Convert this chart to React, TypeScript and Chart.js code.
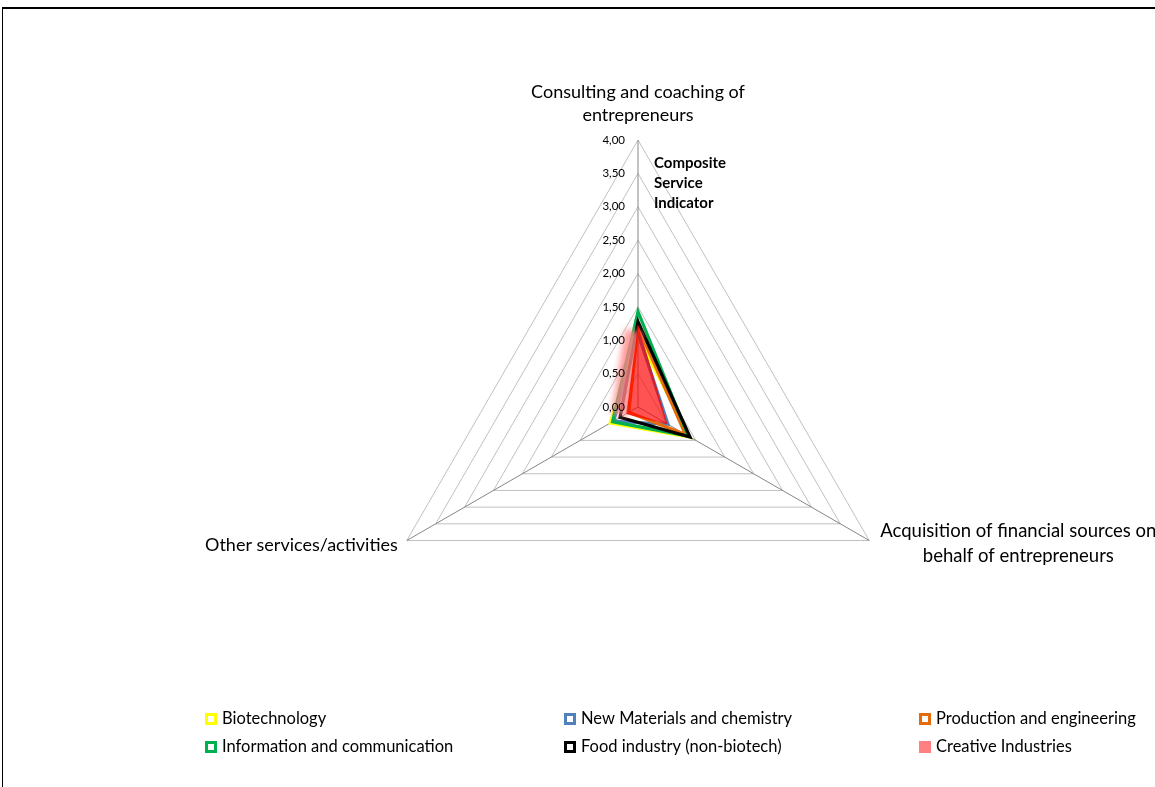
import React, { useEffect, useRef } from "react";
import { Chart, registerables } from "chart.js";

Chart.register(...registerables);

// Radar axes (one per service type)
const axisLabels: string[][] = [
  ["Consulting and coaching of", "entrepreneurs"],
  ["Acquisition of financial sources on", "behalf of entrepreneurs"],
  ["Other services/activities"],
];

const seriesNames = [
  "Biotechnology",
  "New Materials and chemistry",
  "Production and engineering",
  "Information and communication",
  "Food industry (non-biotech)",
  "Creative Industries",
];

// Composite service indicator per sector: [consulting, financing, other]
const biotechnology = [1.05, 0.9, 0.48];
const newMaterials = [1.1, 0.52, 0.42];
const production = [1.2, 0.82, 0.16];
const information = [1.43, 0.87, 0.44];
const foodIndustry = [1.28, 0.9, 0.31];
const creative = [1.22, 0.5, 0.2];

const tickValues = [0, 0.5, 1, 1.5, 2, 2.5, 3, 3.5, 4];
const axisTitle = ["Composite", "Service", "Indicator"];

const lineColors = ["#ffff00", "#4f81bd", "#e46c0a", "#00b050", "#000000"];
const creativeFill = "rgba(255,0,0,0.68)";
const creativeSwatch = "#ff8080";

const FONT = "Lato, 'Open Sans', sans-serif";

const fmt = (v: number) => v.toFixed(2).replace(".", ",");

const overlayPlugin = {
  id: "radarOverlay",
  afterDatasetsDraw(chart: any) {
    // soft glow along the upper-left edge of the filled series
    const ctx = chart.ctx;
    const meta = chart.getDatasetMeta(5);
    const pts = meta.data.map((p: any) => ({ x: p.x, y: p.y }));
    if (pts.length < 3) return;
    ctx.save();
    ctx.beginPath();
    ctx.rect(0, 0, chart.width, chart.height);
    ctx.moveTo(pts[0].x, pts[0].y);
    ctx.lineTo(pts[1].x, pts[1].y);
    ctx.lineTo(pts[2].x, pts[2].y);
    ctx.closePath();
    ctx.clip("evenodd");
    ctx.filter = "blur(3px)";
    ctx.strokeStyle = "rgba(255,130,130,0.82)";
    ctx.lineWidth = 18;
    ctx.lineCap = "butt";
    ctx.beginPath();
    ctx.moveTo(pts[0].x - 4, pts[0].y + 5);
    ctx.lineTo(pts[2].x - 6, pts[2].y + 1);
    ctx.stroke();
    ctx.restore();
  },
  afterDraw(chart: any) {
    const ctx = chart.ctx;
    const scale = chart.scales.r;
    ctx.save();

    // tick labels left of the vertical axis
    ctx.fillStyle = "#000";
    ctx.font = `11.5px ${FONT}`;
    ctx.textAlign = "right";
    ctx.textBaseline = "middle";
    tickValues.forEach((v) => {
      const y = scale.yCenter - scale.getDistanceFromCenterForValue(v);
      ctx.fillText(fmt(v), scale.xCenter - 13, y);
    });

    // axis title
    ctx.font = `bold 15px ${FONT}`;
    ctx.textAlign = "left";
    axisTitle.forEach((t, i) => {
      ctx.fillText(t, scale.xCenter + 16, 163 + i * 20);
    });

    // point labels
    ctx.font = `18px ${FONT}`;
    ctx.fillStyle = "#000";
    const outer = scale.getDistanceFromCenterForValue(4);
    axisLabels.forEach((lines, i) => {
      const p = scale.getPointPosition(i, outer);
      if (i === 0) {
        ctx.textAlign = "center";
        lines.forEach((l, k) => {
          ctx.fillText(l, p.x, p.y - 48 + k * 23);
        });
      } else if (i === 1) {
        ctx.font = `18.5px ${FONT}`;
        const lh = 25;
        const w = Math.max(...lines.map((l) => ctx.measureText(l).width));
        const cx = p.x + 11 + w / 2;
        ctx.textAlign = "center";
        const top = p.y + 3 - ((lines.length - 1) * lh) / 2;
        lines.forEach((l, k) => ctx.fillText(l, cx, top + k * lh));
        ctx.font = `18px ${FONT}`;
      } else {
        ctx.textAlign = "right";
        lines.forEach((l, k) => ctx.fillText(l, p.x - 9, p.y + 5 + k * 23));
      }
    });

    // legend: 2 rows x 3 columns
    const colX = [205, 564, 919];
    const rowY = [719, 747];
    ctx.font = `16.5px ${FONT}`;
    ctx.textAlign = "left";
    ctx.textBaseline = "middle";
    chart.data.datasets.forEach((ds: any, i: number) => {
      const x = colX[i % 3];
      const y = rowY[Math.floor(i / 3)];
      if (i === 5) {
        ctx.fillStyle = creativeSwatch;
        ctx.fillRect(x, y - 6, 12, 12);
      } else {
        ctx.fillStyle = "#fff";
        ctx.fillRect(x, y - 6, 12, 12);
        ctx.strokeStyle = ds.borderColor;
        ctx.lineWidth = 3;
        ctx.strokeRect(x + 1.5, y - 4.5, 9, 9);
      }
      ctx.fillStyle = "#000";
      ctx.fillText(ds.label, x + 17, y);
    });

    ctx.restore();
  },
};

export default function App() {
  const ref = useRef<HTMLCanvasElement | null>(null);

  useEffect(() => {
    if (!ref.current) return;
    const lineSeries = [biotechnology, newMaterials, production, information, foodIndustry];
    // earlier series are painted first, later ones on top
    const datasets: any[] = lineSeries.map((data, i) => ({
      label: seriesNames[i],
      data,
      borderColor: lineColors[i],
      backgroundColor: "rgba(0,0,0,0)",
      borderWidth: 3.2,
      borderJoinStyle: "miter",
      fill: false,
      pointRadius: 0,
      order: 10 - i,
    }));
    datasets.push({
      label: seriesNames[5],
      data: creative,
      borderColor: creativeFill,
      backgroundColor: creativeFill,
      borderWidth: 1,
      fill: true,
      pointRadius: 0,
      order: 0,
    });

    const chart = new Chart(ref.current, {
      type: "radar",
      data: { labels: axisLabels.map((l) => l.join(" ")), datasets },
      options: {
        animation: false,
        responsive: false,
        layout: { padding: { left: 371, right: 250, top: 140, bottom: 113 } },
        plugins: { legend: { display: false }, tooltip: { enabled: false } },
        elements: { line: { tension: 0 } },
        scales: {
          r: {
            min: 0,
            max: 4,
            beginAtZero: true,
            ticks: { stepSize: 0.5, display: false },
            grid: { color: "#c0c0c0", lineWidth: 1 },
            angleLines: { color: "#868686", lineWidth: 1 },
            pointLabels: { display: false },
          },
        },
      },
      plugins: [overlayPlugin],
    });
    return () => chart.destroy();
  }, []);

  return (
    <div
      style={{
        position: "fixed",
        left: 0,
        top: 0,
        width: 1155,
        height: 787,
        overflow: "hidden",
        background: "#fff",
      }}
    >
      <div
        style={{
          position: "absolute",
          left: 2,
          top: 7,
          width: 1300,
          height: 900,
          borderTop: "2px solid #000",
          borderLeft: "1px solid #000",
        }}
      />
      <canvas
        ref={ref}
        width={1155}
        height={787}
        style={{ position: "absolute", left: 0, top: 0 }}
      />
    </div>
  );
}
